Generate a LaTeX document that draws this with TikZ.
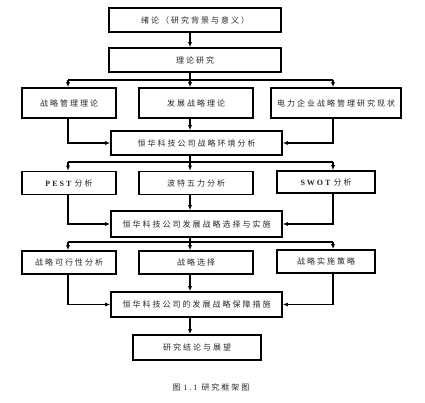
\documentclass[tikz,border=0pt]{standalone}
\usepackage{fontspec}
\setmainfont{Liberation Serif}
\newfontfamily\cjk[LetterSpace=25]{Noto Sans CJK SC}
\newfontfamily\latsp[LetterSpace=25]{Liberation Serif}
\usetikzlibrary{arrows.meta}
\begin{document}
\begin{tikzpicture}[x=1pt,y=-1pt,
  box/.style={draw,line width=1.6pt,inner sep=0pt,align=center,font=\fontsize{8}{9}\selectfont\cjk,text=black!85},
  conn/.style={line width=1.3pt},
  arr/.style={line width=1.3pt,-{Latex[length=5pt,width=4pt]}}]
\useasboundingbox (0,0) rectangle (425,403);
\coordinate (cx) at (190,0);
\coordinate (lx) at (68,0);
\coordinate (rx) at (333,0);
\coordinate (j1) at (190,80);
\coordinate (j2) at (190,162);
\coordinate (j3) at (190,242);
% nodes
\node[box,minimum width=172pt,minimum height=24pt] (b1) at (195,20) {绪论（研究背景与意义）};
\node[box,minimum width=172pt,minimum height=24pt] (b2) at (195,60) {理论研究};
\node[box,minimum width=94pt,minimum height=30pt] (r3a) at (69,103) {战略管理理论};
\node[box,minimum width=114pt,minimum height=30pt] (r3b) at (196,103) {发展战略理论};
\node[box,minimum width=130pt,minimum height=30pt] (r3c) at (336,103) {电力企业战略管理研究现状};
\node[box,minimum width=171pt,minimum height=24pt] (b4) at (196.5,143) {恒华科技公司战略环境分析};
\node[box,minimum width=94pt,minimum height=23pt] (r5a) at (69,183) {{\latsp\bfseries PEST}\hspace{3pt}分析};
\node[box,minimum width=114pt,minimum height=23pt] (r5b) at (196,183) {波特五力分析};
\node[box,minimum width=98pt,minimum height=22pt] (r5c) at (326,182) {{\latsp\bfseries SWOT}\hspace{3pt}分析};
\node[box,minimum width=171pt,minimum height=26pt] (b6) at (196.5,224) {恒华科技公司发展战略选择与实施};
\node[box,minimum width=94pt,minimum height=23pt] (r7a) at (69,262.5) {战略可行性分析};
\node[box,minimum width=114pt,minimum height=23pt] (r7b) at (196,262.5) {战略选择};
\node[box,minimum width=98pt,minimum height=23pt] (r7c) at (326,261.5) {战略实施策略};
\node[box,minimum width=171pt,minimum height=25pt] (b8) at (196.5,304.5) {恒华科技公司的发展战略保障措施};
\node[box,minimum width=128pt,minimum height=25pt] (b9) at (197,347.5) {研究结论与展望};
\node[font=\fontsize{8}{9}\selectfont,text=black!85] (cap) at (211,387) {{\cjk 图}\hspace{3pt}{\latsp 1.1}\hspace{4pt}{\cjk 研究框架图}};
% connectors
\draw[arr] (b1.south -| cx) -- (b2.north -| cx);
% level 1 branch
\draw[conn] (b2.south -| cx) -- (j1);
\draw[conn] (j1 -| lx) -- (j1 -| rx);
\draw[arr] (j1 -| lx) -- (r3a.north -| lx);
\draw[arr] (j1) -- (r3b.north -| cx);
\draw[arr] (j1 -| rx) -- (r3c.north -| rx);
\draw[arr] (r3a.south -| lx) |- (b4.west);
\draw[arr] (r3b.south -| cx) -- (b4.north -| cx);
\draw[arr] (r3c.south -| rx) |- (b4.east);
% level 2 branch
\draw[conn] (b4.south -| cx) -- (j2);
\draw[conn] (j2 -| lx) -- (j2 -| rx);
\draw[arr] (j2 -| lx) -- (r5a.north -| lx);
\draw[arr] (j2) -- (r5b.north -| cx);
\draw[arr] (j2 -| rx) -- (r5c.north -| rx);
\draw[arr] (r5a.south -| lx) |- (b6.west);
\draw[arr] (r5b.south -| cx) -- (b6.north -| cx);
\draw[arr] (r5c.south -| rx) |- (b6.east);
% level 3 branch
\draw[conn] (b6.south -| cx) -- (j3);
\draw[conn] (j3 -| lx) -- (j3 -| rx);
\draw[arr] (j3 -| lx) -- (r7a.north -| lx);
\draw[arr] (j3) -- (r7b.north -| cx);
\draw[arr] (j3 -| rx) -- (r7c.north -| rx);
\draw[arr] (r7a.south -| lx) |- (b8.west);
\draw[arr] (r7b.south -| cx) -- (b8.north -| cx);
\draw[arr] (r7c.south -| rx) |- (b8.east);
\draw[arr] (b8.south -| cx) -- (b9.north -| cx);
\end{tikzpicture}
\end{document}
